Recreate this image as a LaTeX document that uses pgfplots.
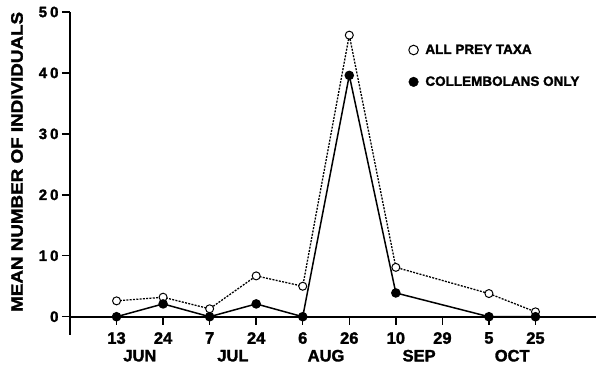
\documentclass[border=0pt]{standalone}
\usepackage{fontspec}
\setmainfont{Liberation Sans}[BoldFeatures={FakeBold=1.8}]
\newfontfamily\widefont{Liberation Sans Bold}[FakeStretch=1.14, FakeBold=1.8]
\usepackage{pgfplots}
\pgfplotsset{compat=1.18}
\begin{document}
\begin{tikzpicture}
\begin{axis}[
  scale only axis, width=526pt, height=323pt,
  xmin=-1, xmax=10.3, ymin=-3, ymax=50,
  axis x line*=middle, axis y line*=left,
  axis line style={line width=1.6pt},
  xtick={0,...,9},
  xticklabels={13,24,7,24,6,26,10,29,5,25},
  ytick={0,10,20,30,40,50},
  yticklabels={0,1\hspace{3pt}0,2\hspace{3pt}0,3\hspace{3pt}0,4\hspace{3pt}0,5\hspace{3pt}0},
  tick align=outside, major tick length=8pt,
  tick style={line width=1.4pt, black},
  xticklabel style={font=\fontsize{16.5}{18}\selectfont\bfseries, yshift=-4pt},
  yticklabel style={font=\fontsize{15}{16}\selectfont\bfseries},
  clip=false,
  legend style={at={(rel axis cs:0.638,0.912)}, anchor=north west, draw=none, fill=none,
    row sep=17pt, column sep=5pt,
    nodes={inner sep=2pt, font=\fontsize{13.5}{15}\selectfont\bfseries}},
  legend cell align=left,
]
\addplot[black, line width=1.3pt, dash pattern=on 2pt off 1.3pt, mark=*, mark size=4pt,
  mark options={solid, fill=white, line width=1pt}, forget plot]
  coordinates {(0,2.6)(1,3.2)(2,1.3)(3,6.7)(4,5.0)(5,46.2)(6,8.1)(8,3.8)(9,0.8)};
\addplot[black, line width=1.5pt, mark=*, mark size=4pt, mark options={solid, fill=black}, forget plot]
  coordinates {(0,0)(1,2.1)(2,0)(3,2.1)(4,0)(5,39.6)(6,3.9)(8,0)(9,0)};
\addlegendimage{only marks, mark=*, mark size=4.8pt, mark options={fill=white, draw=black, line width=1pt}}
\addlegendentry{ALL PREY TAXA}
\addlegendimage{only marks, mark=*, mark size=4.8pt, mark options={fill=black, draw=black}}
\addlegendentry{COLLEMBOLANS ONLY}
\node[font=\fontsize{16.5}{18}\selectfont\bfseries] at (axis cs:0.5,0) [yshift=-39pt] {JUN};
\node[font=\fontsize{16.5}{18}\selectfont\bfseries] at (axis cs:2.5,0) [yshift=-39pt] {JUL};
\node[font=\fontsize{16.5}{18}\selectfont\bfseries] at (axis cs:4.5,0) [yshift=-39pt] {AUG};
\node[font=\fontsize{16.5}{18}\selectfont\bfseries] at (axis cs:6.5,0) [yshift=-39pt] {SEP};
\node[font=\fontsize{16.5}{18}\selectfont\bfseries] at (axis cs:8.5,0) [yshift=-39pt] {OCT};
\node[rotate=90, font=\fontsize{16.5}{18}\selectfont\widefont] at ([xshift=-53pt]rel axis cs:0,0.536) {MEAN NUMBER OF INDIVIDUALS};
\end{axis}
\pgfresetboundingbox
\path (current axis.south west) ++(-70pt,-36pt) rectangle ++(596pt,371pt);
\end{tikzpicture}
\end{document}
